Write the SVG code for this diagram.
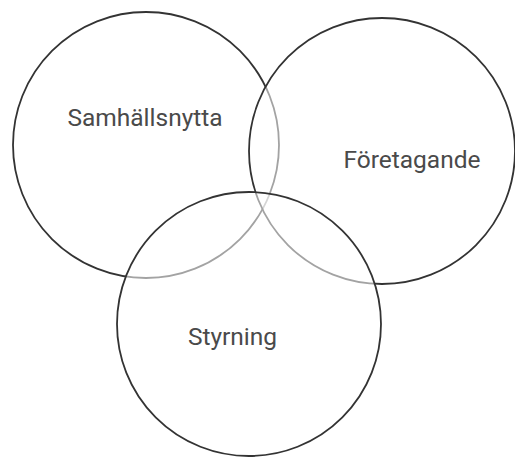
<svg xmlns="http://www.w3.org/2000/svg" width="515" height="458" viewBox="0 0 515 458">
<style>
.c{fill:#fff;fill-opacity:0.55;stroke:#333;stroke-width:1.8}
.t{font-family:Roboto,"Liberation Sans",sans-serif;font-size:24.5px;fill:#4a4a4a;text-anchor:middle}
</style>
<rect width="515" height="458" fill="#fff"/>
<g id="samhallsnytta">
<circle class="c" cx="146" cy="145" r="133"/>
<text class="t" x="145" y="126">Samhällsnytta</text>
</g>
<g id="foretagande">
<circle class="c" cx="382" cy="151" r="133"/>
<text class="t" x="412" y="168">Företagande</text>
</g>
<g id="styrning">
<circle class="c" cx="249" cy="324" r="132"/>
<text class="t" x="232.5" y="345">Styrning</text>
</g>
</svg>
